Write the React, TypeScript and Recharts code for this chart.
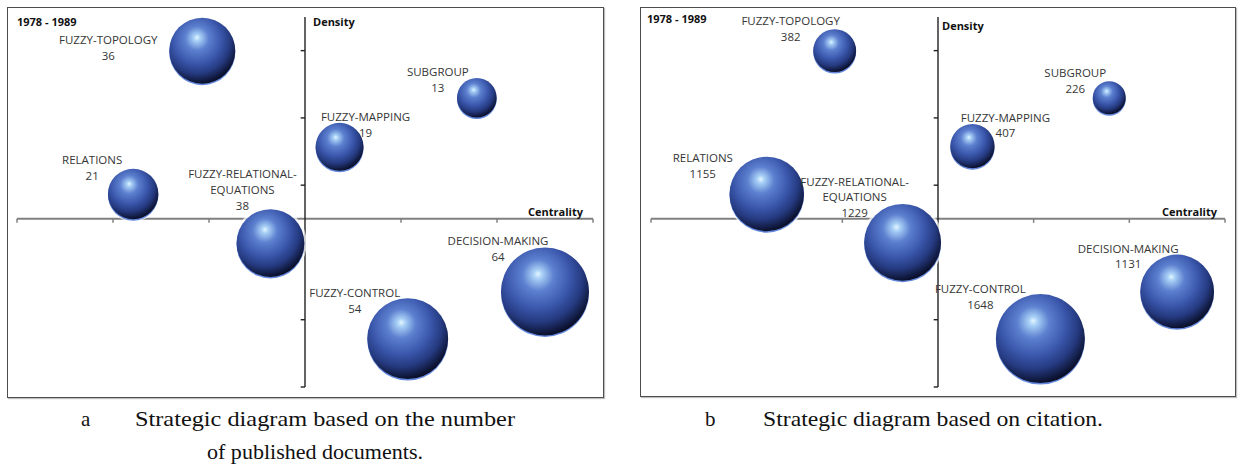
import { ScatterChart, Scatter, XAxis, YAxis, ZAxis, ReferenceLine } from 'recharts';

// themes of the strategic diagrams (1978 - 1989)
const THEMES = [
  'FUZZY-TOPOLOGY',
  'RELATIONS',
  'FUZZY-RELATIONAL-EQUATIONS',
  'FUZZY-MAPPING',
  'SUBGROUP',
  'DECISION-MAKING',
  'FUZZY-CONTROL',
];

// panel a: number of published documents
const CENTRALITY_A = [-1.07, -1.79, -0.36, 0.36, 1.79, 2.5, 1.07];
const DENSITY_A = [2.5, 0.37, -0.36, 1.07, 1.8, -1.08, -1.78];
const DOCUMENTS = [36, 21, 38, 19, 13, 64, 54];

// panel b: citations
const CENTRALITY_B = [-1.08, -1.79, -0.37, 0.36, 1.79, 2.5, 1.07];
const DENSITY_B = [2.5, 0.37, -0.35, 1.08, 1.8, -1.08, -1.78];
const CITATIONS = [382, 1155, 1229, 407, 226, 1131, 1648];

const X_DOMAIN = [-3, 3];
const Y_DOMAIN = [-2.5, 3];
const X_TICKS = [-3, -2, -1, 1, 2, 3];
const Y_TICKS = [-2.5, -1.5, -0.5, 0.5, 1.5, 2.5];

// label placement (px from bubble centre), per theme
const LABEL_OFFSET_A: Record<string, [number, number]> = {
  'FUZZY-TOPOLOGY': [-94, -11],
  RELATIONS: [-41, -34],
  'FUZZY-RELATIONAL-EQUATIONS': [-28, -70],
  'FUZZY-MAPPING': [26, -30],
  SUBGROUP: [-39, -26],
  'DECISION-MAKING': [-47, -51],
  'FUZZY-CONTROL': [-53, -46],
};
const LABEL_OFFSET_B: Record<string, [number, number]> = {
  'FUZZY-TOPOLOGY': [-44, -30],
  RELATIONS: [-64, -36],
  'FUZZY-RELATIONAL-EQUATIONS': [-48, -61],
  'FUZZY-MAPPING': [33, -29],
  SUBGROUP: [-34, -25],
  'DECISION-MAKING': [-49, -43],
  'FUZZY-CONTROL': [-60, -50],
};

const TICK_LEN_Y = 0.06; // x-axis tick marks, in density units
const TICK_LEN_X = 0.045; // y-axis tick marks, in centrality units

const LABEL_FONT = '"Open Sans", sans-serif';

const wrapName = (name: string) => {
  if (name.length <= 18) return [name];
  const cut = name.lastIndexOf('-') + 1;
  return [name.slice(0, cut), name.slice(cut)];
};

const Sphere = (props: any) => {
  const { cx, cy, width, size, payload } = props;
  const r = width ? width / 2 : Math.sqrt(size / Math.PI);
  const id = `sph-${payload.panel}-${payload.name}`;
  return (
    <g>
      <defs>
        <radialGradient id={id} cx="0.42" cy="0.36" r="0.72" fx="0.42" fy="0.3">
          <stop offset="0%" stopColor="#e4f6ff" />
          <stop offset="7%" stopColor="#a8d0f6" />
          <stop offset="25%" stopColor="#5d80cf" />
          <stop offset="50%" stopColor="#3b58ad" />
          <stop offset="70%" stopColor="#253a80" />
          <stop offset="88%" stopColor="#0d1434" />
          <stop offset="100%" stopColor="#000000" />
        </radialGradient>
      </defs>
      <circle cx={cx} cy={cy} r={r + 2.5} fill="#ffffff" opacity={0.7} />
      <circle cx={cx} cy={cy + 1.5} r={r} fill="#6488dc" />
      <circle cx={cx} cy={cy} r={r} fill={`url(#${id})`} />
    </g>
  );
};

const makeLabel = (offsets: Record<string, [number, number]>, lineGap: number) => (props: any) => {
  const { cx, cy, payload } = props;
  const [dx, dy] = offsets[payload.name];
  const lines = [...wrapName(payload.name), String(payload.value)];
  return (
    <g>
      {lines.map((t, i) => (
        <text
          key={i}
          x={cx + dx}
          y={cy + dy + i * lineGap}
          textAnchor="middle"
          dominantBaseline="central"
          fontFamily={LABEL_FONT}
          fontSize={11.5}
          fill="#363636"
        >
          {t}
        </text>
      ))}
    </g>
  );
};

interface PanelProps {
  panel: string;
  centrality: number[];
  density: number[];
  values: number[];
  maxRadius: number;
  offsets: Record<string, [number, number]>;
  lineGap: number;
  width: number;
  height: number;
  margin: { top: number; right: number; bottom: number; left: number };
}

function StrategicDiagram({ panel, centrality, density, values, maxRadius, offsets, lineGap, width, height, margin }: PanelProps) {
  const data = THEMES.map((name, i) => ({
    panel,
    name,
    x: centrality[i],
    y: density[i],
    value: values[i],
  }));
  const maxValue = Math.max(...values);

  return (
    <ScatterChart width={width} height={height} margin={margin}>
      <XAxis type="number" dataKey="x" domain={X_DOMAIN} hide allowDataOverflow />
      <YAxis type="number" dataKey="y" domain={Y_DOMAIN} hide allowDataOverflow />
      <ZAxis type="number" dataKey="value" domain={[0, maxValue]} range={[0, Math.PI * maxRadius * maxRadius]} />
      <ReferenceLine y={0} stroke="#808080" strokeWidth={2} />
      {X_TICKS.map((t) => (
        <ReferenceLine
          key={`xt${t}`}
          segment={[{ x: t, y: 0 }, { x: t, y: -TICK_LEN_Y }]}
          stroke="#808080"
          strokeWidth={1.5}
        />
      ))}
      <ReferenceLine x={0} stroke="#222222" strokeWidth={1.4} />
      {Y_TICKS.map((t) => (
        <ReferenceLine
          key={`yt${t}`}
          segment={[{ x: 0, y: t }, { x: -TICK_LEN_X, y: t }]}
          stroke="#222222"
          strokeWidth={1.4}
        />
      ))}
      <Scatter data={data} shape={Sphere} isAnimationActive={false} />
      <Scatter data={data} shape={makeLabel(offsets, lineGap)} isAnimationActive={false} />
    </ScatterChart>
  );
}

const frameStyle = (left: number, top: number, width: number, height: number): React.CSSProperties => ({
  position: 'absolute',
  left,
  top,
  width,
  height,
  boxSizing: 'border-box',
  border: '1.5px solid #4d4d4d',
  boxShadow: '1px 1px 1px rgba(0,0,0,0.25)',
});

const bold: React.CSSProperties = {
  fontFamily: LABEL_FONT,
  fontWeight: 700,
  fontSize: 11,
  fill: '#111111',
};

const caption: React.CSSProperties = {
  fontFamily: '"Liberation Serif", serif',
  fontSize: 21,
  fill: '#111111',
};

export default function App() {
  return (
    <div style={{ position: 'absolute', left: 0, top: 0, width: 1240, height: 468, background: '#fff', overflow: 'hidden' }}>
      <div style={frameStyle(7, 7, 597, 391)} />
      <div style={frameStyle(640, 7, 596, 390)} />

      <div style={{ position: 'absolute', left: 7, top: 7 }}>
        <StrategicDiagram
          panel="a"
          centrality={CENTRALITY_A}
          density={DENSITY_A}
          values={DOCUMENTS}
          maxRadius={44}
          offsets={LABEL_OFFSET_A}
          lineGap={16}
          width={597}
          height={391}
          margin={{ top: 10, right: 11, bottom: 11, left: 10 }}
        />
      </div>
      <div style={{ position: 'absolute', left: 640, top: 7 }}>
        <StrategicDiagram
          panel="b"
          centrality={CENTRALITY_B}
          density={DENSITY_B}
          values={CITATIONS}
          maxRadius={44.5}
          offsets={LABEL_OFFSET_B}
          lineGap={15.5}
          width={596}
          height={390}
          margin={{ top: 10, right: 11, bottom: 10, left: 11 }}
        />
      </div>

      <svg width={1240} height={468} style={{ position: 'absolute', left: 0, top: 0, pointerEvents: 'none' }}>
        <text x={17} y={21} dominantBaseline="central" style={bold}>1978 - 1989</text>
        <text x={313} y={21} dominantBaseline="central" style={bold}>Density</text>
        <text x={583} y={211} dominantBaseline="central" textAnchor="end" style={bold}>Centrality</text>

        <text x={647} y={18} dominantBaseline="central" style={bold}>1978 - 1989</text>
        <text x={942} y={25} dominantBaseline="central" style={bold}>Density</text>
        <text x={1217} y={211} dominantBaseline="central" textAnchor="end" style={bold}>Centrality</text>

        <text x={81} y={426} style={caption}>a</text>
        <text x={135} y={426} textLength={380} lengthAdjust="spacingAndGlyphs" style={caption}>Strategic diagram based on the number</text>
        <text x={207} y={459} textLength={216} lengthAdjust="spacingAndGlyphs" style={caption}>of published documents.</text>
        <text x={705} y={426} style={caption}>b</text>
        <text x={763} y={426} textLength={340} lengthAdjust="spacingAndGlyphs" style={caption}>Strategic diagram based on citation.</text>
      </svg>
    </div>
  );
}
